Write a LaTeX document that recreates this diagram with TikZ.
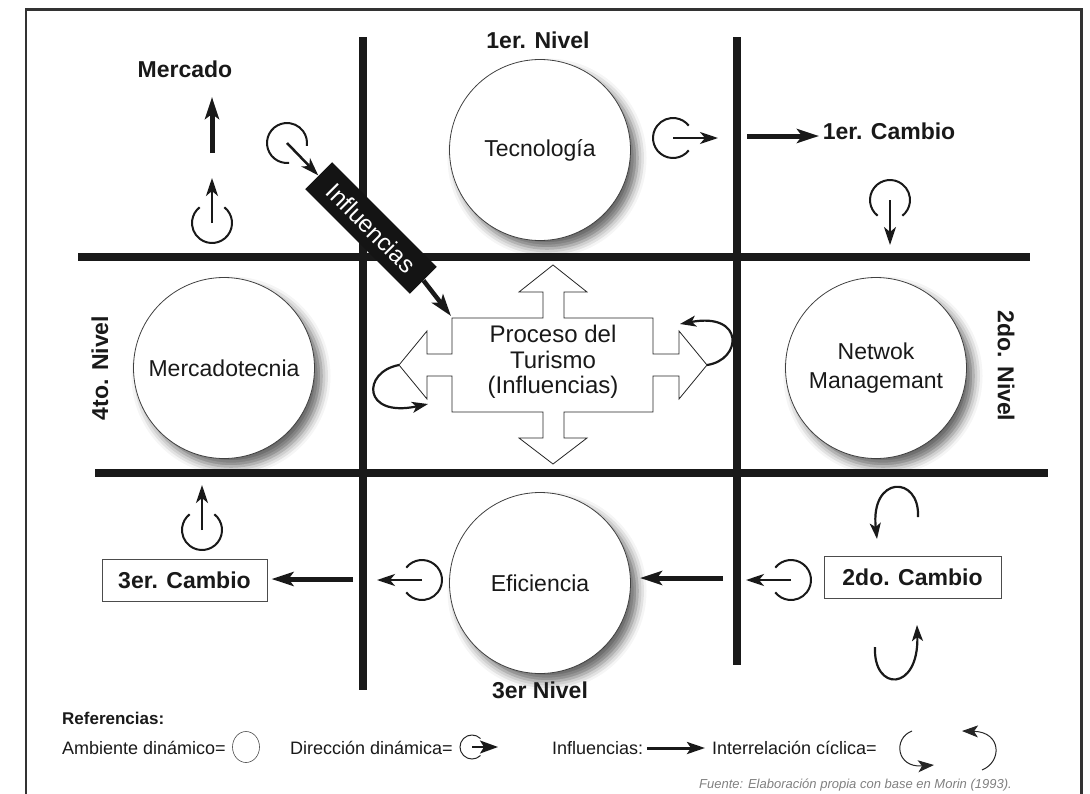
\documentclass[tikz,border=0pt]{standalone}
\usepackage{fontspec}
\setmainfont{Liberation Sans}
\usetikzlibrary{arrows.meta,shadows.blur,calc,shapes.geometric}

% dynamic-direction symbol: open circle with an arrow leaving through the gap
\newcommand\dynsym[2]{%
  \draw[symline] ($(#1)+(#2+38:20)$) arc[start angle=#2+38, end angle=#2+322, radius=20];
  \draw[thinarrow] (#1) -- ($(#1)+(#2:45)$);
}

\begin{document}
\begin{tikzpicture}[x=1pt,y=-1pt,
  gridline/.style={line width=7.5pt, color=black!90},
  ambient/.style={circle, draw=black!75, line width=0.8pt, fill=white,
    minimum size=181pt, inner sep=0pt, align=center, font=\fontsize{23}{29}\selectfont, text=black!90,
    blur shadow={shadow xshift=7pt, shadow yshift=-8pt, shadow blur radius=9pt, shadow opacity=60}},
  lbl/.style={font=\bfseries\fontsize{23}{27}\selectfont, text=black!90, inner sep=0pt},
  cambiobox/.style={draw=black!70, line width=1pt, font=\bfseries\fontsize{23}{27}\selectfont,
    text=black!90, minimum height=42pt, inner sep=0pt},
  symline/.style={line width=2pt, color=black!90},
  thinarrow/.style={line width=2.5pt, color=black!90, -{Stealth[length=18pt,width=12pt,inset=5pt]}},
  thickarrow/.style={line width=5pt, color=black!90, -{Stealth[length=22pt,width=14pt,inset=5pt]}},
  curvearrow/.style={line width=2.2pt, color=black!90, -{Stealth[length=16pt,width=11pt,inset=4pt]}},
  legend/.style={font=\fontsize{18}{21}\selectfont, text=black!90, inner sep=0pt, anchor=west},
]
\useasboundingbox (0,0) rectangle (1090,793);

% outer frame, open at the bottom
\draw[line width=2.5pt, black!80] (26,800) -- (26,9.5) -- (1081.5,9.5) -- (1081.5,800);

% ambient circles
\node[ambient] (tec) at (540,150) {Tecnología};
\node[ambient] (mkt) at (224,368) {Mercadotecnia};
\node[ambient] (net) at (876,368) {Netwok\\Managemant};
\node[ambient] (efi) at (540,583) {Eficiencia};

% level grid
\coordinate (vl1) at (363,37);  \coordinate (vl2) at (363,690);
\coordinate (vr1) at (737,37);  \coordinate (vr2) at (737,665);
\coordinate (hu1) at (78,257);  \coordinate (hu2) at (1030,257);
\coordinate (hd1) at (95,473);  \coordinate (hd2) at (1048,473);
\draw[gridline] (vl1) -- (vl2);
\draw[gridline] (vr1) -- (vr2);
\draw[gridline] (hu1) -- (hu2);
\draw[gridline] (hd1) -- (hd2);

% level labels
\node[lbl] (nivel1) at (538,40) {1er. Nivel};
\node[lbl, rotate=90] (nivel4) at (100,368) {4to. Nivel};
\node[lbl, rotate=-90] (nivel2) at (1006,366) {2do. Nivel};
\node[lbl] (nivel3) at (540,690) {3er Nivel};

% change labels
\node[lbl] (mercado) at (185,69) {Mercado};
\node[lbl] (cambio1) at (889,131) {1er. Cambio};
\node[cambiobox, minimum width=165pt] (cambio3) at (184.5,580) {3er. Cambio};
\node[cambiobox, minimum width=177pt] (cambio2) at (912.5,577) {2do. Cambio};

% central process: four-headed arrow
\draw[line width=0.8pt, black!85, fill=white] (452,318) -- (543,318) -- (543,292) -- (519,292) -- (553,265)
  -- (587,292) -- (564,292) -- (564,318) -- (653,318) -- (653,354) -- (679,354) -- (679,331)
  -- (707,365) -- (679,399) -- (679,376) -- (653,376) -- (653,412) -- (564,412) -- (564,438)
  -- (587,438) -- (553,464) -- (519,438) -- (543,438) -- (543,412) -- (452,412) -- (452,376)
  -- (427,376) -- (427,399) -- (399,365) -- (427,331) -- (427,354) -- (452,354) -- cycle;
\node[align=center, font=\fontsize{24}{25.5}\selectfont, text=black!90] (proceso) at (553,362)
  {Proceso del\\Turismo\\(Influencias)};
\coordinate (ptipR) at (707,365);
\coordinate (ptipL) at (399,365);
\draw[curvearrow] (ptipR) .. controls (742,360) and (745,312) .. (680,324);
\draw[curvearrow] (ptipL) .. controls (362,372) and (362,418) .. (428,404);

% influence box
\node[fill=black!92, text=white, rotate=-45, minimum width=148pt, minimum height=38pt,
  inner sep=0pt, font=\fontsize{24}{27}\selectfont] (infl) at (371,228) {Influencias};
\coordinate (inflEnd) at (451,316);
\draw[thickarrow, line width=4.5pt] (infl.east) -- (inflEnd);

% dynamic-direction symbols
\coordinate (s1) at (212,223);
\coordinate (s2) at (287,143);
\coordinate (s3) at (673,138);
\coordinate (s4) at (890,200);
\coordinate (s5) at (791,580);
\coordinate (s6) at (422,580);
\coordinate (s7) at (202,530);
\dynsym{s1}{270}
\dynsym{s2}{46}
\dynsym{s3}{0}
\dynsym{s4}{90}
\dynsym{s5}{180}
\dynsym{s6}{180}
\dynsym{s7}{270}

% influence arrows
\coordinate (m1) at (212,153); \coordinate (m2) at (212,97);
\draw[thickarrow] (m1) -- (m2);
\coordinate (c1a) at (747,136); \coordinate (c1b) at (819,136);
\draw[thickarrow] (c1a) -- (c1b);
\coordinate (e1a) at (723,578); \coordinate (e1b) at (640,578);
\draw[thickarrow] (e1a) -- (e1b);
\coordinate (c3a) at (353,579);
\draw[thickarrow] (c3a) -- ([xshift=4pt]cambio3.east |- c3a);

% cyclic arrows around the second change
\coordinate (cy1) at (918,517);
\coordinate (cy2) at (877,539);
\coordinate (cy3) at (875,647);
\coordinate (cy4) at (917,625);
\draw[curvearrow] (cy1) .. controls (920,475) and (870,475) .. (cy2);
\draw[curvearrow] (cy3) .. controls (873,692) and (919,692) .. (cy4);

% references
\node[legend, font=\bfseries\fontsize{17}{20}\selectfont] (refs) at (62,718) {Referencias:};
\node[legend] (amb) at (62,748) {Ambiente dinámico=};
\node[draw=black!70, line width=0.6pt, ellipse, minimum width=27pt, minimum height=31pt, inner sep=0pt]
  (ambsym) at (246,747) {};
\node[legend] (dir) at (290,748) {Dirección dinámica=};
\coordinate (dsc) at (472,747);
\draw[black!85, line width=1pt] ($(dsc)+(45:12)$) arc[start angle=45, end angle=315, radius=12];
\draw[line width=1.5pt, black!90, -{Stealth[length=18pt,width=13pt,inset=4pt]}] (dsc) -- ++(26,0);
\node[legend] (inf) at (552,748) {Influencias:};
\coordinate (ib) at (705,748);
\draw[line width=3pt, black!90, -{Stealth[length=18pt,width=12pt,inset=4pt]}] ([xshift=4pt]inf.east) -- (ib);
\node[legend] (cic) at (712,748) {Interrelación cíclica=};
\coordinate (ca1) at (912,731); \coordinate (ca2) at (934,765);
\coordinate (cb1) at (982,770); \coordinate (cb2) at (962,731);
\draw[black!85, line width=1pt, -{Stealth[length=16pt,width=12pt,inset=4pt]}] (ca1) .. controls (893,738) and (896,768) .. (ca2);
\draw[black!85, line width=1pt, -{Stealth[length=16pt,width=12pt,inset=4pt]}] (cb1) .. controls (1002,762) and (1002,732) .. (cb2);

\node[anchor=east, inner sep=0pt, font=\itshape\fontsize{13}{15}\selectfont, text=black!50] (fuente)
  at (1012,785) {Fuente: Elaboración propia con base en Morin (1993).};
\end{tikzpicture}
\end{document}
